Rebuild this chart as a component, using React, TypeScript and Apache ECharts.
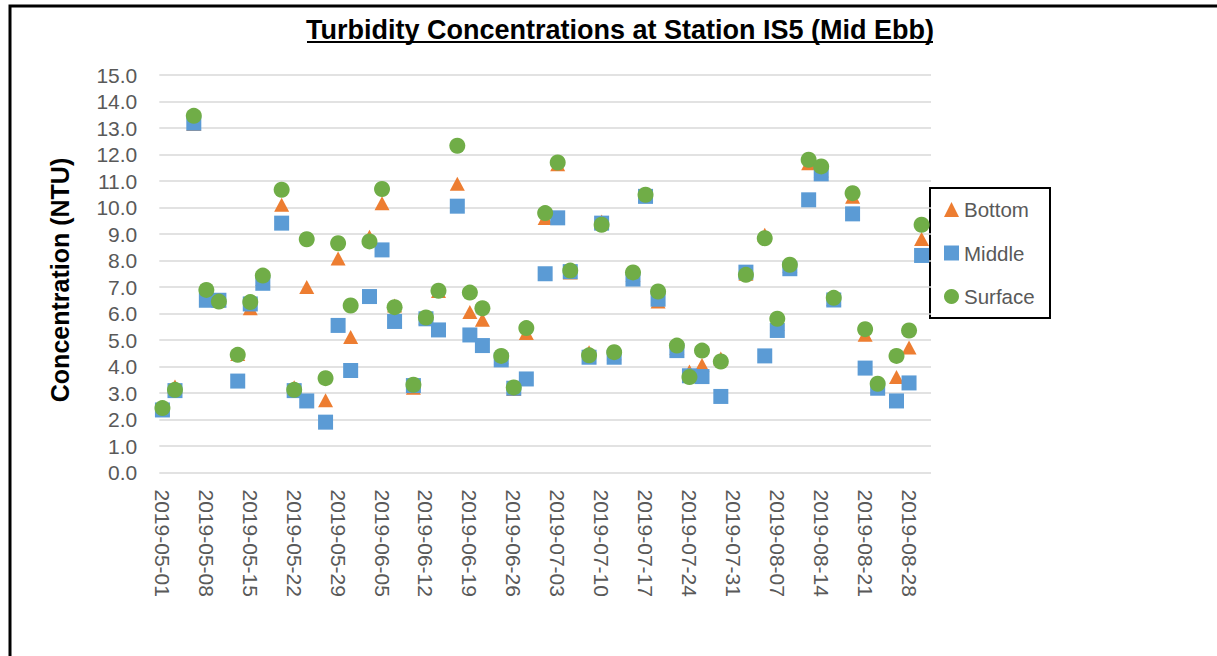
import React, { useEffect, useRef } from "react";
import * as echarts from "echarts";

const chartTitle = "Turbidity Concentrations at Station IS5 (Mid Ebb)";
const yAxisTitle = "Concentration (NTU)";
const seriesNames = ["Bottom", "Middle", "Surface"];

// axis covers every day from start to end (one category slot per day)
const axisStart = "2019-05-01";
const axisEnd = "2019-08-31";

const sampleDates = [
  "2019-05-01", "2019-05-03", "2019-05-06", "2019-05-08", "2019-05-10", "2019-05-13",
  "2019-05-15", "2019-05-17", "2019-05-20", "2019-05-22", "2019-05-24", "2019-05-27",
  "2019-05-29", "2019-05-31", "2019-06-03", "2019-06-05", "2019-06-07", "2019-06-10",
  "2019-06-12", "2019-06-14", "2019-06-17", "2019-06-19", "2019-06-21", "2019-06-24",
  "2019-06-26", "2019-06-28", "2019-07-01", "2019-07-03", "2019-07-05", "2019-07-08",
  "2019-07-10", "2019-07-12", "2019-07-15", "2019-07-17", "2019-07-19", "2019-07-22",
  "2019-07-24", "2019-07-26", "2019-07-29", "2019-08-02", "2019-08-05", "2019-08-07",
  "2019-08-09", "2019-08-12", "2019-08-14", "2019-08-16", "2019-08-19", "2019-08-21",
  "2019-08-23", "2019-08-26", "2019-08-28", "2019-08-30",
];

const bottomValues = [
  2.4, 3.25, 13.15, 6.6, 6.5, 4.47, 6.2, 7.3, 10.1, 3.22, 7.0, 2.73,
  8.08, 5.11, 8.9, 10.16, 6.3, 3.2, 5.85, 6.85, 10.9, 6.06, 5.76, 4.35,
  3.15, 5.26, 9.6, 11.63, 7.55, 4.54, 9.47, 4.5, 7.45, 10.45, 6.45, 4.7,
  3.81, 4.06, 4.3, 7.5, 8.97, 5.6, 7.8, 11.67, 11.4, 6.55, 10.41, 5.2,
  3.25, 3.6, 4.72, 8.81,
];

const middleValues = [
  2.36, 3.09, 13.18, 6.5, 6.5, 3.45, 6.36, 7.14, 9.41, 3.09, 2.7, 1.9,
  5.55, 3.85, 6.64, 8.4, 5.7, 3.28, 5.8, 5.38, 10.05, 5.19, 4.79, 4.25,
  3.18, 3.53, 7.5, 9.61, 7.58, 4.35, 9.41, 4.35, 7.3, 10.42, 6.54, 4.6,
  3.65, 3.62, 2.87, 7.56, 4.4, 5.36, 7.69, 10.29, 11.27, 6.51, 9.76, 3.94,
  3.18, 2.7, 3.38, 8.19,
];

const surfaceValues = [
  2.43, 3.12, 13.46, 6.89, 6.45, 4.44, 6.43, 7.43, 10.67, 3.12, 8.8, 3.56,
  8.65, 6.3, 8.72, 10.7, 6.24, 3.31, 5.85, 6.86, 12.33, 6.79, 6.2, 4.4,
  3.21, 5.45, 9.79, 11.7, 7.62, 4.42, 9.35, 4.54, 7.55, 10.48, 6.83, 4.79,
  3.6, 4.6, 4.19, 7.46, 8.84, 5.8, 7.84, 11.8, 11.55, 6.59, 10.54, 5.41,
  3.35, 4.4, 5.36, 9.35,
];

const yMin = 0;
const yMax = 15;
const yStep = 1;

function dayCategories(start: string, end: string): string[] {
  const out: string[] = [];
  const d = new Date(start + "T00:00:00Z");
  const e = new Date(end + "T00:00:00Z");
  while (d.getTime() <= e.getTime()) {
    out.push(d.toISOString().slice(0, 10));
    d.setUTCDate(d.getUTCDate() + 1);
  }
  return out;
}

const COLORS = { Bottom: "#ED7D31", Middle: "#5B9BD5", Surface: "#70AD47" };
const FONT = "'Liberation Sans', Arial, sans-serif";

export default function App() {
  const ref = useRef<HTMLDivElement>(null);

  useEffect(() => {
    if (!ref.current) return;
    const chart = echarts.init(ref.current, undefined, { renderer: "svg" });
    const categories = dayCategories(axisStart, axisEnd);
    const pair = (vals: number[]) => sampleDates.map((d, i) => [d, vals[i]]);

    const option: any = {
      animation: false,
      backgroundColor: "#ffffff",
      grid: { left: 159.3, right: 286, top: 75, bottom: 183.5, containLabel: false },
      xAxis: {
        type: "category",
        data: categories,
        boundaryGap: true,
        axisLine: { show: false },
        axisTick: { show: false },
        splitLine: { show: false },
        axisLabel: {
          interval: 6,
          rotate: -90,
          margin: 17,
          color: "#595959",
          fontSize: 21,
          fontFamily: FONT,
        },
      },
      yAxis: {
        type: "value",
        min: yMin,
        max: yMax,
        interval: yStep,
        axisLine: { show: false },
        axisTick: { show: false },
        splitLine: { show: true, lineStyle: { color: "#D9D9D9", width: 1.5 } },
        axisLabel: {
          color: "#595959",
          fontSize: 21,
          fontFamily: FONT,
          margin: 22,
          formatter: (v: number) => v.toFixed(1),
        },
      },
      legend: {
        data: seriesNames,
        orient: "vertical",
        left: 944,
        top: 199,
        padding: 0,
        itemWidth: 15,
        itemHeight: 15,
        itemGap: 22.5,
        textStyle: { color: "#595959", fontSize: 20.5, fontFamily: FONT },
      },
      series: [
        {
          name: "Bottom",
          type: "scatter",
          symbol: "triangle",
          symbolSize: [15, 14],
          itemStyle: { color: COLORS.Bottom, opacity: 1 },
          data: pair(bottomValues),
        },
        {
          name: "Middle",
          type: "scatter",
          symbol: "rect",
          symbolSize: 15,
          itemStyle: { color: COLORS.Middle, opacity: 1 },
          data: pair(middleValues),
        },
        {
          name: "Surface",
          type: "scatter",
          symbol: "circle",
          symbolSize: 16,
          itemStyle: { color: COLORS.Surface, opacity: 1 },
          data: pair(surfaceValues),
        },
      ],
      graphic: [
        {
          type: "rect",
          silent: true,
          shape: { x: 10, y: 6, width: 1220, height: 660 },
          style: { fill: "none", stroke: "#000", lineWidth: 3 },
        },
        {
          type: "text",
          silent: true,
          x: 620,
          y: 30,
          style: {
            text: chartTitle,
            font: `bold 27px ${FONT}`,
            fill: "#000",
            textAlign: "center",
            textVerticalAlign: "middle",
          },
        },
        {
          type: "line",
          silent: true,
          shape: { x1: 307, y1: 42, x2: 933, y2: 42 },
          style: { stroke: "#000", lineWidth: 2 },
        },
        {
          type: "text",
          silent: true,
          x: 60,
          y: 280,
          rotation: Math.PI / 2,
          style: {
            text: yAxisTitle,
            font: `bold 25px ${FONT}`,
            fill: "#000",
            textAlign: "center",
            textVerticalAlign: "middle",
          },
        },
        {
          type: "rect",
          silent: true,
          shape: { x: 930, y: 188, width: 120, height: 130 },
          style: { fill: "#fff", stroke: "#000", lineWidth: 2 },
          z: -1,
        },
      ],
    };
    chart.setOption(option);
    return () => chart.dispose();
  }, []);

  return (
    <div
      ref={ref}
      style={{ position: "fixed", left: 0, top: 0, width: 1217, height: 656, background: "#fff" }}
    />
  );
}
